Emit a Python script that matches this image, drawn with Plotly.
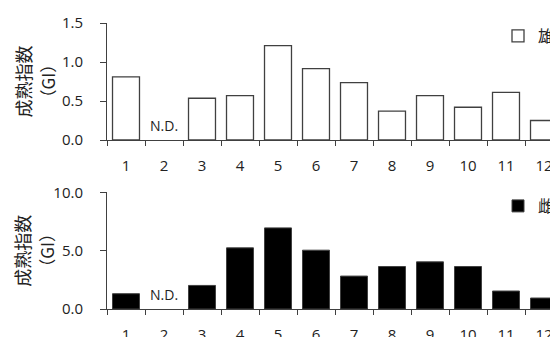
import plotly.graph_objects as go
from plotly.subplots import make_subplots

months = ["1", "2", "3", "4", "5", "6", "7", "8", "9", "10", "11", "12"]
male_gi = [0.81, None, 0.535, 0.57, 1.21, 0.915, 0.735, 0.37, 0.57, 0.42, 0.61, 0.25]
female_gi = [1.31, None, 2.02, 5.24, 6.95, 5.04, 2.82, 3.64, 4.04, 3.64, 1.54, 0.94]
male_label = "雄"
female_label = "雌"
nd_text = "N.D."
nd_index = 1
ytitle1 = "成熟指数"
ytitle2 = "（GI）"

W, H = 558, 337
OFF = 8  # page body margin offset (screen px)
ML, MR, MT, MB = 99, 3, 15, 36
PW, PH = W - ML - MR, H - MT - MB

def px_x(sx):
    return (sx - OFF - ML) / PW

def px_y(sy):
    return (H - MB - (sy - OFF)) / PH

FONT = "Open Sans, Noto Sans CJK JP, sans-serif"
CJK = "Noto Sans CJK JP, sans-serif"
AX = "#404040"

fig = make_subplots(rows=2, cols=1)

fig.add_trace(go.Bar(x=months, y=male_gi, name=male_label,
                     marker=dict(color="white", line=dict(color=AX, width=1.3)),
                     legend="legend"), row=1, col=1)
fig.add_trace(go.Bar(x=months, y=female_gi, name=female_label,
                     marker=dict(color="black", line=dict(color=AX, width=1)),
                     legend="legend2"), row=2, col=1)

xcommon = dict(type="category", range=[-0.5, 11.5], tickson="boundaries",
               ticks="outside", ticklen=5, tickcolor=AX, showline=True,
               linecolor=AX, linewidth=1, showgrid=False, zeroline=False,
               tickfont=dict(family=FONT, size=15, color="#222"),
               ticklabelstandoff=12, automargin=False)
ycommon = dict(ticks="outside", ticklen=6, tickcolor=AX, showline=True,
               linecolor=AX, linewidth=1, showgrid=False, zeroline=False,
               tickformat=".1f", tickfont=dict(family=FONT, size=15, color="#222"),
               ticklabelstandoff=14, automargin=False)

fig.update_layout(
    width=W, height=H, margin=dict(l=ML, r=MR, t=MT, b=MB, autoexpand=False),
    paper_bgcolor="white", plot_bgcolor="white", bargap=0.29,
    xaxis=dict(domain=[0, 1], anchor="y", **xcommon),
    xaxis2=dict(domain=[0, 1], anchor="y2", **xcommon),
    yaxis=dict(domain=[px_y(140), 1], range=[0, 1.5], tickvals=[0, 0.5, 1.0, 1.5], **ycommon),
    yaxis2=dict(domain=[0, px_y(192.3)], range=[0, 10], tickvals=[0, 5, 10], **ycommon),
    legend=dict(x=px_x(498), y=px_y(36), xanchor="left", yanchor="middle",
                font=dict(family=CJK, size=16, color="#222"), bgcolor="rgba(0,0,0,0)"),
    legend2=dict(x=px_x(498), y=px_y(206), xanchor="left", yanchor="middle",
                 font=dict(family=CJK, size=16, color="#222"), bgcolor="rgba(0,0,0,0)"),
    showlegend=True,
)

annots = []
for yc in (81.5, 250.8):
    annots.append(dict(text=ytitle1, xref="paper", yref="paper", x=px_x(22), y=px_y(yc),
                       xanchor="center", yanchor="middle", textangle=-90, showarrow=False,
                       font=dict(family=CJK, size=18, color="#222")))
    annots.append(dict(text=ytitle2, xref="paper", yref="paper", x=px_x(47), y=px_y(yc),
                       xanchor="center", yanchor="middle", textangle=-90, showarrow=False,
                       font=dict(family=CJK, size=17, color="#222")))
annots.append(dict(text=nd_text, xref="x", yref="y", x=nd_index, y=0.18, showarrow=False,
                   yanchor="middle", font=dict(family=FONT, size=14, color="#222")))
annots.append(dict(text=nd_text, xref="x2", yref="y2", x=nd_index, y=1.22, showarrow=False,
                   yanchor="middle", font=dict(family=FONT, size=14, color="#222")))
fig.update_layout(annotations=annots)

fig.write_html("out.html")
